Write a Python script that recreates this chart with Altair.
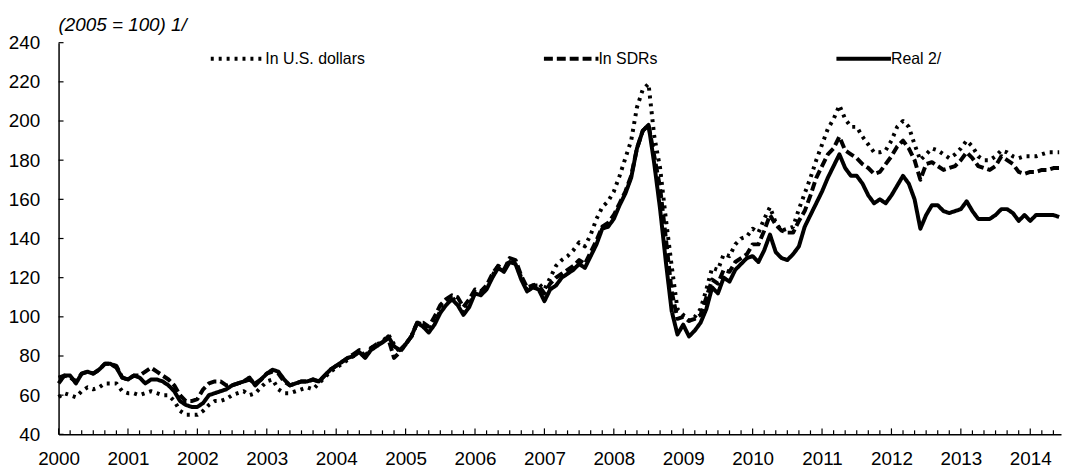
import altair as alt
import pandas as pd

names = ["In U.S. dollars", "In SDRs", "Real 2/"]
years = list(range(2000, 2015))
y_ticks = list(range(40, 241, 20))

usd = [
    59, 61, 60, 59, 62, 64, 63, 64, 66, 66, 66, 62,
    61, 61, 60, 61, 62, 61, 60, 60, 57, 52, 50, 50,
    50, 52, 55, 57, 57, 58, 60, 61, 62, 60, 61, 64,
    67, 68, 63, 61, 61, 62, 63, 64, 63, 66, 69, 72,
    74, 76, 78, 80, 83, 79, 84, 86, 87, 91, 86, 82,
    86, 90, 97, 96, 93, 97, 103, 107, 110, 107, 102, 106,
    113, 112, 115, 121, 126, 124, 129, 128, 120, 114, 116, 117,
    114, 120, 126, 129, 131, 134, 138, 136, 142, 150, 156, 159,
    164, 172, 181, 190, 207, 216, 219, 192, 176, 150, 126, 104,
    101, 98, 100, 104, 114, 125, 124, 132, 131, 137, 140, 141,
    145, 143, 150, 156, 148, 144, 145, 146, 155, 163, 171, 180,
    188, 196, 201, 208, 201, 197, 197, 192, 188, 184, 184, 185,
    190, 197, 200, 197, 188, 180, 183, 186, 185, 183, 181, 183,
    186, 190, 187, 182, 180, 180, 182, 185, 184, 182, 181, 182,
    182, 182, 183, 184, 184, 184,
]

sdr = [
    69, 70, 69, 67, 71, 72, 71, 73, 76, 76, 75, 69,
    68, 70, 70, 72, 74, 72, 70, 68, 65, 60, 57, 57,
    58, 63, 66, 67, 67, 65, 65, 66, 67, 68, 66, 68,
    71, 72, 71, 67, 65, 66, 67, 67, 68, 67, 70, 73,
    75, 77, 79, 81, 83, 80, 84, 86, 87, 89, 79, 82,
    86, 90, 97, 97, 95, 100, 106, 109, 111, 110, 105, 109,
    114, 113, 116, 122, 126, 124, 130, 129, 121, 115, 116, 116,
    112, 117, 120, 122, 124, 126, 129, 127, 133, 139, 146, 148,
    152, 158, 164, 172, 186, 195, 198, 182, 166, 140, 113, 99,
    100, 98, 99, 101, 110, 119, 117, 124, 123, 128, 130, 132,
    137, 137, 144, 152, 147, 144, 143, 143, 149, 154, 162, 171,
    177, 183, 186, 192, 185, 183, 181, 178, 176, 173, 174, 178,
    182, 187, 190, 186, 180, 170, 178, 179, 177, 175, 176, 177,
    180, 184, 181, 177, 176, 175, 177, 182, 180, 178, 174, 173,
    174, 174, 175, 175, 176, 176,
]

real = [
    66, 70, 70, 66, 71, 72, 71, 73, 76, 76, 74, 69,
    68, 70, 69, 66, 68, 68, 67, 65, 62, 57, 55, 54,
    54, 56, 60, 61, 62, 63, 65, 66, 67, 69, 65, 68,
    71, 73, 72, 68, 65, 66, 67, 67, 68, 67, 70, 73,
    75, 77, 79, 80, 82, 79, 83, 85, 87, 90, 85, 83,
    86, 90, 97, 95, 92, 96, 102, 106, 109, 106, 101, 105,
    112, 111, 114, 120, 125, 123, 128, 127, 119, 113, 115, 114,
    108, 114, 116, 120, 122, 124, 127, 125, 131, 137, 145, 146,
    150, 157, 163, 171, 186, 195, 198, 178, 155, 128, 103, 91,
    96, 90, 93, 97, 104, 115, 112, 120, 118, 124, 127, 130,
    131, 128, 134, 142, 133, 130, 129, 132, 136, 146, 152, 158,
    164, 171, 177, 183, 176, 172, 172, 168, 162, 158, 160, 158,
    162, 167, 172, 168, 160, 145, 152, 157, 157, 154, 153, 154,
    155, 159, 154, 150, 150, 150, 152, 155, 155, 153, 149, 152,
    149, 152, 152, 152, 152, 151,
]

rows = []
for name, series in zip(names, [usd, sdr, real]):
    for i, v in enumerate(series):
        rows.append({"t": 2000 + i / 12, "v": v, "s": name})
df = pd.DataFrame(rows)

W, H = 1011, 395
FONT = "Liberation Sans"

xscale = alt.Scale(domain=[2000, 2014.443], nice=False, zero=False)
yscale = alt.Scale(domain=[40, 240], nice=False, zero=False)
xaxis = alt.Axis(values=years, format="d", title=None, ticks=False, tickSize=0,
                 labelPadding=15, grid=False, labelFlush=False)
yaxis = alt.Axis(values=y_ticks, title=None, ticks=False, tickSize=0,
                 labelPadding=19, grid=False)

lines = alt.Chart(df).mark_line(color="black", strokeWidth=4, strokeJoin="round").encode(
    x=alt.X("t:Q", scale=xscale, axis=xaxis),
    y=alt.Y("v:Q", scale=yscale, axis=yaxis),
    strokeDash=alt.StrokeDash(
        "s:N",
        sort=names,
        scale=alt.Scale(domain=names, range=[[3, 5], [9, 4], [1, 0]]),
        legend=alt.Legend(
            title=None, orient="none", legendX=151.5, legendY=-13.5,
            direction="horizontal", symbolType="stroke", symbolSize=3025,
            symbolStrokeWidth=4, symbolStrokeColor="black",
            labelFontSize=16, labelFont=FONT, labelColor="black",
            columnPadding=172, labelOffset={"expr": "-2"}, padding=0,
        ),
    ),
)

major = pd.DataFrame({"t": years})
minor = pd.DataFrame({"t": [2000 + k / 6 for k in range(87) if k % 6]})
ydf = pd.DataFrame({"v": y_ticks})

xmaj = alt.Chart(major).mark_rule(color="black", strokeWidth=1.2).encode(
    x=alt.X("t:Q", scale=xscale, axis=xaxis), y=alt.value(H), y2=alt.value(H - 6))
xmin = alt.Chart(minor).mark_rule(color="black", strokeWidth=1.2).encode(
    x=alt.X("t:Q", scale=xscale, axis=xaxis), y=alt.value(H), y2=alt.value(H - 4))
ytk = alt.Chart(ydf).mark_rule(color="black", strokeWidth=1.2).encode(
    y=alt.Y("v:Q", scale=yscale, axis=yaxis), x=alt.value(0), x2=alt.value(5))

chart = alt.layer(lines, xmaj, xmin, ytk).properties(
    width=W, height=H,
    padding={"left": 0, "top": 6, "right": 0, "bottom": 0},
    title=alt.Title("(2005 = 100) 1/", anchor="start", frame="group", fontStyle="italic",
                    fontWeight="normal", fontSize=19, font=FONT, color="black",
                    offset={"expr": "-6"}),
).configure_view(stroke=None).configure_axis(
    labelFont=FONT, labelFontSize=19, labelColor="black",
    domainColor="black", domainWidth=1.5,
)

chart.save("out.html", embed_options={"renderer": "svg", "actions": False})
